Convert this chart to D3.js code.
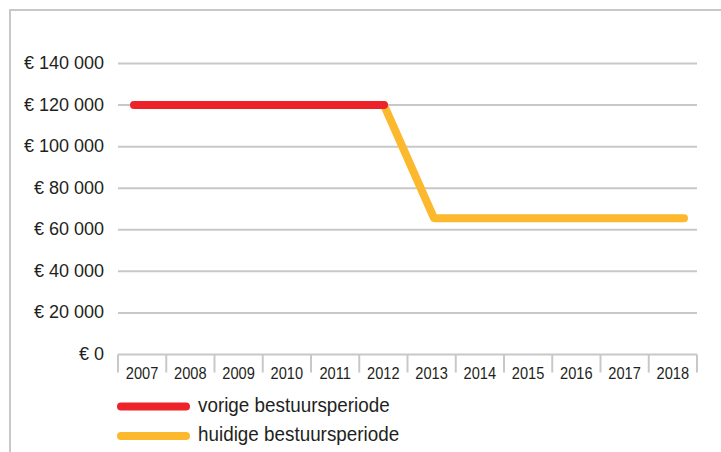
<!DOCTYPE html>
<html>
<head>
<meta charset="utf-8">
<script src="https://cdn.jsdelivr.net/npm/d3@7"></script>
<style>
  body { margin: 0; background: #fff; }
  text { font-family: "Liberation Sans", Arial, sans-serif; fill: #231f20; }
</style>
</head>
<body>
<div id="chart"></div>
<script>
const years = ["2007", "2008", "2009", "2010", "2011", "2012", "2013", "2014", "2015", "2016", "2017", "2018"];
const vorige = [120000, 120000, 120000, 120000, 120000, 120000];
const vorigeYears = ["2007", "2008", "2009", "2010", "2011", "2012"];
const huidige = [120000, 65600, 65600, 65600, 65600, 65600, 65600];
const huidigeYears = ["2012", "2013", "2014", "2015", "2016", "2017", "2018"];
const yTicks = [0, 20000, 40000, 60000, 80000, 100000, 120000, 140000];
const legendLabels = ["vorige bestuursperiode", "huidige bestuursperiode"];
const colors = ["#ee2229", "#fdb92d"];

const width = 721;
const height = 452;
const grid = "#c8c8c8";

const svg = d3.select("#chart")
  .append("svg")
  .attr("width", width)
  .attr("height", height);

// frame
svg.append("path")
  .attr("d", "M10,452 V10 H721")
  .attr("fill", "none")
  .attr("stroke", grid)
  .attr("stroke-width", 2);

const x = d3.scaleBand()
  .domain(years)
  .range([118, 697]);

// the line points sit on their own spacing
const xp = d3.scalePoint()
  .domain(years)
  .range([134, 684]);

const y = d3.scaleLinear()
  .domain([0, 140000])
  .range([354.5, 63.5]);

// gridlines
svg.append("g")
  .selectAll("line")
  .data(yTicks.slice(1))
  .enter().append("line")
  .attr("x1", 118)
  .attr("x2", 697)
  .attr("y1", d => y(d))
  .attr("y2", d => y(d))
  .attr("stroke", grid)
  .attr("stroke-width", 2);

// y labels
svg.append("g")
  .selectAll("text")
  .data(yTicks)
  .enter().append("text")
  .attr("x", 104)
  .attr("y", d => y(d) + 5.5)
  .attr("text-anchor", "end")
  .style("font-size", "18px")
  .text(d => "€ " + d3.format(",")(d).replace(/,/g, " "));

// x axis baseline and ticks
const xAxis = svg.append("g");
xAxis.append("line")
  .attr("x1", 118)
  .attr("x2", 697)
  .attr("y1", y(0))
  .attr("y2", y(0))
  .attr("stroke", grid)
  .attr("stroke-width", 2);

const bounds = years.map(d => x(d)).concat([x.range()[1]]);
xAxis.selectAll(".tick")
  .data(bounds)
  .enter().append("line")
  .attr("class", "tick")
  .attr("x1", d => d)
  .attr("x2", d => d)
  .attr("y1", y(0))
  .attr("y2", y(0) + 18)
  .attr("stroke", grid)
  .attr("stroke-width", 2);

// condensed look: squeeze the text horizontally
const sxYear = 0.86;
xAxis.selectAll("text")
  .data(years)
  .enter().append("text")
  .attr("transform", `scale(${sxYear},1)`)
  .attr("x", d => (x(d) + x.bandwidth() / 2) / sxYear)
  .attr("y", 379)
  .attr("text-anchor", "middle")
  .style("font-size", "17px")
  .text(d => d);

// lines
const line = d3.line()
  .x(d => xp(d[0]))
  .y(d => y(d[1]));

const series = [
  d3.zip(vorigeYears, vorige),
  d3.zip(huidigeYears, huidige)
];

svg.append("path")
  .datum(series[1])
  .attr("d", line)
  .attr("fill", "none")
  .attr("stroke", colors[1])
  .attr("stroke-width", 8)
  .attr("stroke-linejoin", "round")
  .attr("stroke-linecap", "round");

svg.append("path")
  .datum(series[0])
  .attr("d", line)
  .attr("fill", "none")
  .attr("stroke", colors[0])
  .attr("stroke-width", 8)
  .attr("stroke-linejoin", "round")
  .attr("stroke-linecap", "round");

// legend
const legend = svg.append("g")
  .selectAll("g")
  .data(legendLabels)
  .enter().append("g")
  .attr("transform", (d, i) => `translate(121,${406.5 + i * 29.5})`);

legend.append("line")
  .attr("x1", 0)
  .attr("x2", 65)
  .attr("stroke", (d, i) => colors[i])
  .attr("stroke-width", 8)
  .attr("stroke-linecap", "round");

const sxLeg = 0.92;
legend.append("text")
  .attr("transform", `scale(${sxLeg},1)`)
  .attr("x", 77 / sxLeg)
  .attr("y", 5)
  .style("font-size", "20.5px")
  .text(d => d);
</script>
</body>
</html>
